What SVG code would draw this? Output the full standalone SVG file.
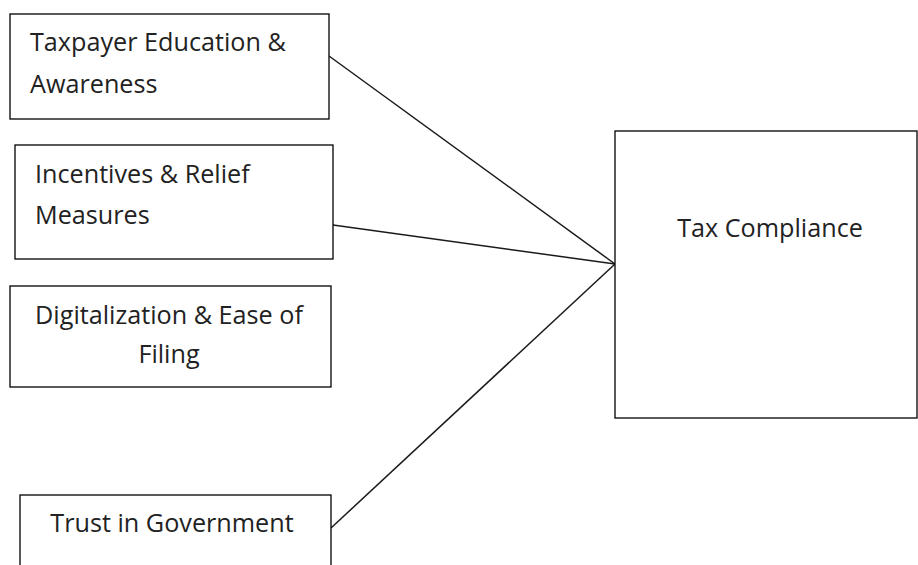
<svg xmlns="http://www.w3.org/2000/svg" width="918" height="565" viewBox="0 0 918 565">
<style>
.box{fill:#fff;stroke:#000;stroke-width:1.3}
.t{font-family:"Open Sans","Liberation Sans",sans-serif;font-size:25.2px;fill:#222}
.c{text-anchor:middle}
.ln{stroke:#1a1a1a;stroke-width:1.5;fill:none}
</style>
<rect width="918" height="565" fill="#fff"/>
<g id="connectors">
<line class="ln" x1="329" y1="56" x2="615" y2="264"/>
<line class="ln" x1="333" y1="225" x2="615" y2="264"/>
<line class="ln" x1="331" y1="528" x2="615" y2="264"/>
</g>
<g id="n1">
<rect class="box" x="10" y="14" width="319" height="105"/>
<text class="t" x="30" y="51">Taxpayer Education &amp;</text>
<text class="t" x="30" y="93">Awareness</text>
</g>
<g id="n2">
<rect class="box" x="15" y="145" width="318" height="114"/>
<text class="t" x="35" y="183">Incentives &amp; Relief</text>
<text class="t" x="35" y="224">Measures</text>
</g>
<g id="n3">
<rect class="box" x="10" y="286" width="321" height="101"/>
<text class="t c" x="169" y="324">Digitalization &amp; Ease of</text>
<text class="t c" x="169" y="363">Filing</text>
</g>
<g id="n4">
<rect class="box" x="20" y="495" width="311" height="80"/>
<text class="t c" x="172" y="532">Trust in Government</text>
</g>
<g id="n5">
<rect class="box" x="615" y="131" width="302" height="287"/>
<text class="t c" x="770" y="237">Tax Compliance</text>
</g>
</svg>
